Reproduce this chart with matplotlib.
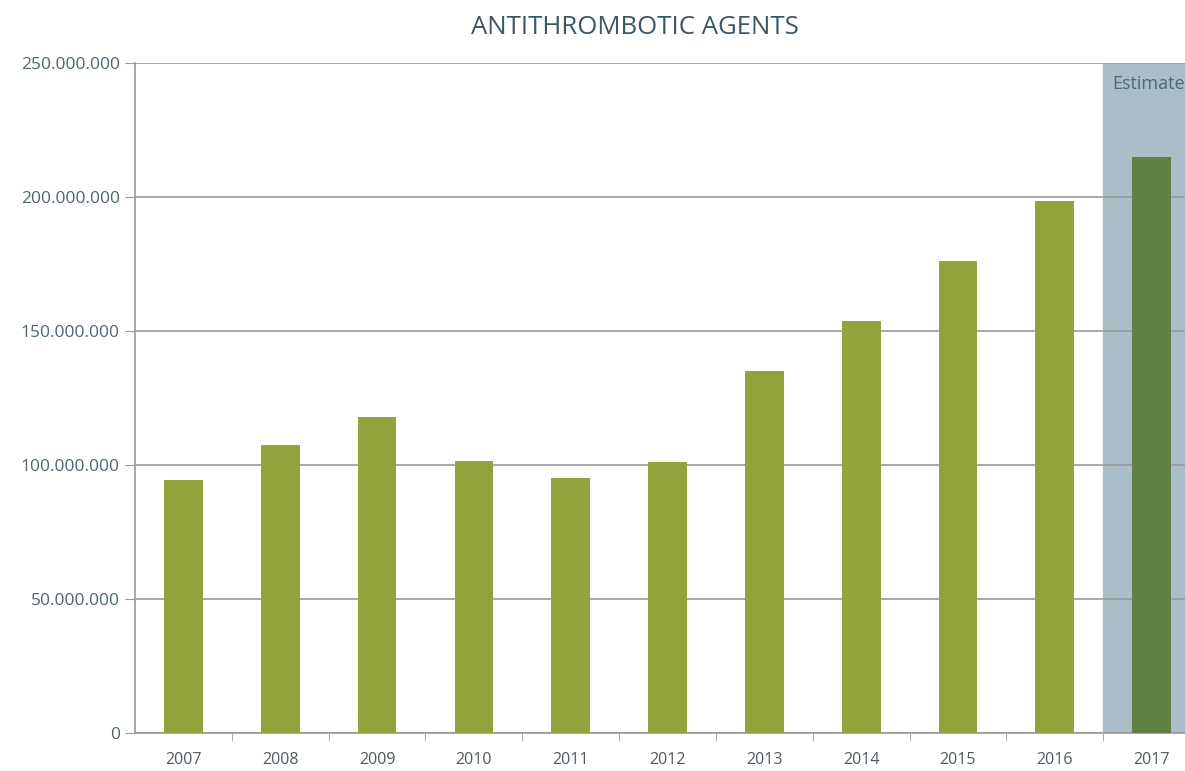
import numpy as np
import matplotlib.pyplot as plt
from matplotlib.ticker import FuncFormatter, FixedLocator

years = ["2007", "2008", "2009", "2010", "2011", "2012", "2013", "2014", "2015", "2016", "2017"]
units = [94.4e6, 107.5e6, 117.9e6, 101.5e6, 95.1e6, 101.1e6, 135.1e6, 153.7e6, 176.1e6, 198.5e6, 214.9e6]
estimated = [False] * 10 + [True]

plt.rcParams['font.family'] = ['Open Sans', 'DejaVu Sans']

fig = plt.figure(figsize=(11.85, 7.71), dpi=100)
ax = fig.add_axes([135 / 1185, 38 / 771, 1065 / 1185, 670 / 771])

x = np.arange(len(years))
colors = ['#5e8244' if e else '#93a23a' for e in estimated]
ax.bar(x, units, width=0.4, color=colors, zorder=3)

# shaded band behind the estimated years
first_est = estimated.index(True)
ax.axvspan(first_est - 0.5, len(years) - 0.5, color='#a9bec6', zorder=1)
ax.text(first_est - 0.41, 242e6, "Estimate", color='#4a6a78', fontsize=13,
        ha='left', va='center', zorder=4)

ax.set_xlim(-0.5, len(years) - 0.5)
ax.set_ylim(0, 250e6)
ax.set_yticks(np.arange(0, 250e6 + 1, 50e6))
ax.yaxis.set_major_formatter(FuncFormatter(lambda v, p: f"{int(v):,}".replace(",", ".")))
ax.yaxis.grid(True, color='#9a9a9a', linewidth=1.2, zorder=2)
ax.tick_params(axis='y', length=7, color='#9a9a9a', labelsize=12.5, labelcolor='#4f6670', pad=4)

ax.set_xticks(x)
ax.set_xticklabels(years)
ax.tick_params(axis='x', length=0, labelsize=11.5, labelcolor='#4f5a60', pad=14)
ax.xaxis.set_minor_locator(FixedLocator(np.arange(0.5, len(years) - 1, 1)))
ax.tick_params(axis='x', which='minor', length=6, color='#9a9a9a', direction='out')

for side in ['right', 'top']:
    ax.spines[side].set_visible(False)
for side in ['left', 'bottom']:
    ax.spines[side].set_color('#9a9a9a')
    ax.spines[side].set_linewidth(1.2)

fig.text(635 / 1185, 1 - 28 / 771, "ANTITHROMBOTIC AGENTS", ha='center', va='center',
         fontsize=18.5, color='#3a5766')

fig.savefig("out.png", dpi=100)
